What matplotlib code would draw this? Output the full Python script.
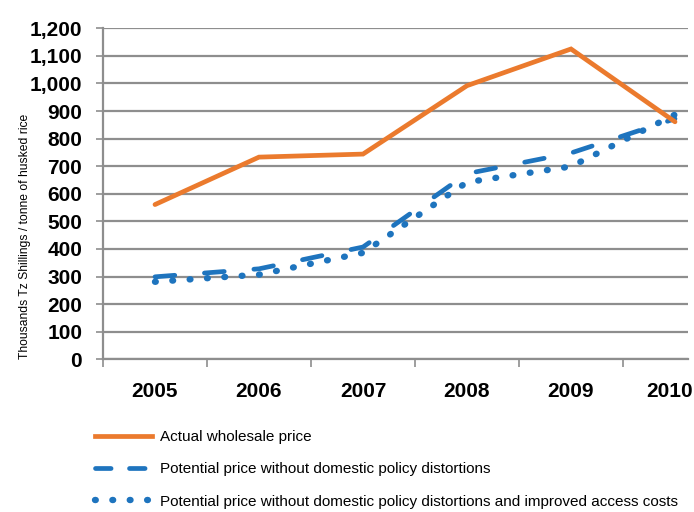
import matplotlib
matplotlib.use("Agg")
import matplotlib.pyplot as plt
from matplotlib.lines import Line2D
import matplotlib.transforms as mtrans
import numpy as np

years = ["2005", "2006", "2007", "2008", "2009", "2010"]
actual = [561, 733, 744, 992, 1125, 861]
no_distortion = [299, 328, 407, 673, 748, 872]
no_dist_access = [281, 307, 386, 642, 699, 887]

ORANGE = "#EB7A2D"
BLUE = "#1E74BE"
GRID = "#8E8E8E"
LAB = ["Liberation Sans", "DejaVu Sans"]

fig = plt.figure(figsize=(6.94, 5.12), dpi=100)
ax = fig.add_axes([103 / 694, 1 - 359.3 / 512, 585 / 694, 331 / 512])

x = np.arange(len(years))
lw = 3.4
dot_lw = 4.6
ax.plot(x, no_distortion, color=BLUE, lw=lw, dashes=(4.2, 6.3),
        dash_capstyle="round", solid_capstyle="round", zorder=3)
ax.plot(x, no_dist_access, color=BLUE, lw=dot_lw, dashes=(0.12, 2.6),
        dash_capstyle="round", zorder=4)
ax.plot(x, actual, color=ORANGE, lw=lw, solid_capstyle="round",
        solid_joinstyle="miter", zorder=5)

ax.set_xlim(-0.5, 5.125)
ax.set_ylim(0, 1200)
ax.set_yticks(np.arange(0, 1201, 100))
ax.set_yticklabels([f"{v:,}" for v in range(0, 1201, 100)],
                   family=LAB, fontweight="bold", fontsize=15)
ax.yaxis.grid(True, color=GRID, lw=1.6)
ax.set_axisbelow(True)
ax.tick_params(axis="y", length=5, width=1.2, color=GRID, pad=10)

ax.set_xticks(x)
ax.set_xticklabels(years, family=LAB, fontweight="bold", fontsize=15)
ax.set_xticks(np.arange(-0.5, 5.0, 1.0), minor=True)
ax.tick_params(axis="x", which="major", length=0, pad=16)
ax.tick_params(axis="x", which="minor", length=6, width=1.2, color=GRID)
lab = ax.get_xticklabels()[-1]
lab.set_transform(lab.get_transform() +
                  mtrans.ScaledTranslation(-0.05, 0, fig.dpi_scale_trans))

for s in ["top", "right"]:
    ax.spines[s].set_visible(False)
for s in ["left", "bottom"]:
    ax.spines[s].set_color(GRID)
    ax.spines[s].set_linewidth(1.6)

fig.text(25 / 694, 1 - 236 / 512, "Thousands Tz Shillings / tonne of husked rice",
         rotation=90, ha="center", va="center", family=LAB, fontsize=8.7)

handles = [
    Line2D([], [], color=ORANGE, lw=lw),
    Line2D([], [], color=BLUE, lw=lw, dashes=(3.3, 3.9), dash_capstyle="round"),
    Line2D([], [], color=BLUE, lw=dot_lw, dashes=(0.12, 2.6), dash_capstyle="round"),
]
labels = ["Actual wholesale price",
          "Potential price without domestic policy distortions",
          "Potential price without domestic policy distortions and improved access costs"]
fig.legend(handles, labels, loc="upper left", bbox_to_anchor=(95 / 694, 1 - 430 / 512),
           frameon=False, borderpad=0, borderaxespad=0, handlelength=3.75,
           handletextpad=0.5, labelspacing=1.2,
           prop={"family": LAB, "size": 11})

fig.savefig("out.png", dpi=100)
